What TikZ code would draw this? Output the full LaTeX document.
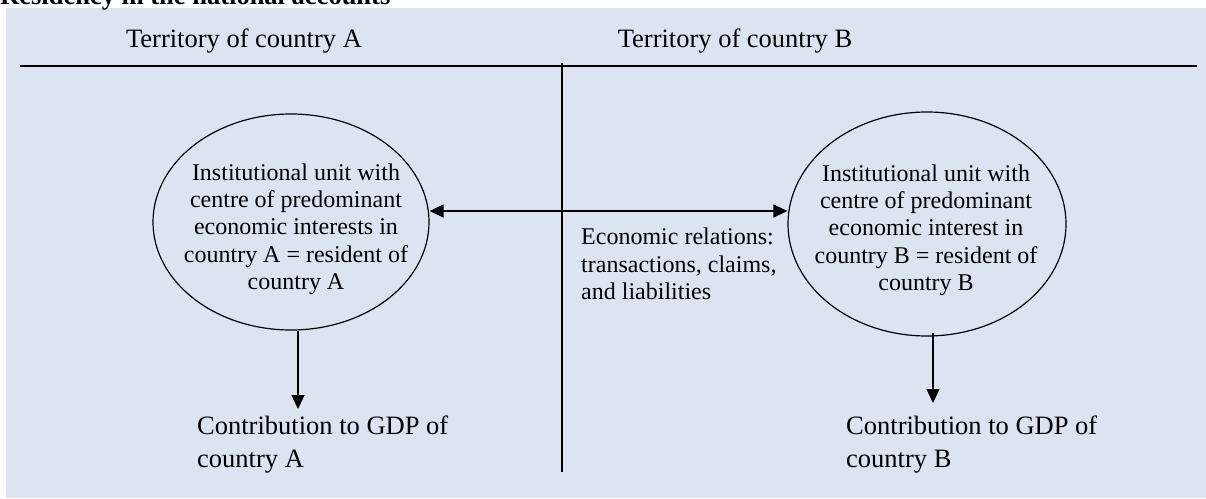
\documentclass[tikz,border=0pt]{standalone}
\usepackage{fontspec}
\setmainfont{Liberation Serif}
\usetikzlibrary{arrows.meta,shapes.geometric}
\definecolor{bgblue}{HTML}{DBE4F0}
\tikzset{
  rule/.style={line width=1.6pt, black},
  ell/.style={draw, line width=1.2pt, ellipse, inner sep=0pt},
  conn/.style={line width=1.3pt, -{Triangle[length=14pt,width=13pt]}},
  bigtxt/.style={inner sep=0pt, font=\fontsize{26.5}{31}\selectfont},
  midtxt/.style={inner sep=0pt, font=\fontsize{24}{27.3}\selectfont},
}
\begin{document}
\begin{tikzpicture}[x=1pt,y=-1pt]
\useasboundingbox (0,0) rectangle (1206,498);
\fill[bgblue] (6,8) rectangle (1206,498);
\node[anchor=base west, inner sep=0pt, font=\fontsize{26.5}{31}\selectfont\bfseries] (title) at (0,4.5) {Residency in the national accounts};
\coordinate (hl) at (20,66);
\coordinate (hr) at (1197,66);
\coordinate (vt) at (562,63);
\coordinate (vb) at (562,472);
\draw[rule] (hl) -- (hr);
\draw[rule] (vt) -- (vb);
\node[bigtxt] (tA) at (244,41) {Territory of country A};
\node[bigtxt] (tB) at (735,41) {Territory of country B};
\node[ell, minimum width=276pt, minimum height=216pt] (eA) at (291,222) {};
\node[ell, minimum width=278pt, minimum height=224pt] (eB) at (927,224) {};
\node[midtxt, align=center] (xA) at (296,229) {Institutional unit with\\centre of predominant\\economic interests in\\country A = resident of\\country A};
\node[midtxt, align=center] (xB) at (926,230) {Institutional unit with\\centre of predominant\\economic interest in\\country B = resident of\\country B};
\node[midtxt, align=left, anchor=west] (rel) at (581,264) {Economic relations:\\transactions, claims,\\and liabilities};
\node[bigtxt, align=left, anchor=west, font=\fontsize{26.5}{33}\selectfont] (cA) at (197,445) {Contribution to GDP of\\country A};
\node[bigtxt, align=left, anchor=west, font=\fontsize{26.5}{33}\selectfont] (cB) at (846,445) {Contribution to GDP of\\country B};
\coordinate (arrY) at (600,211);
\draw[line width=1.3pt, {Triangle[length=14pt,width=13pt]}-{Triangle[length=14pt,width=13pt]}] (eA.east |- arrY) -- (eB.west |- arrY);
\coordinate (dA) at (298,409);
\coordinate (dB) at (933,403);
\draw[conn] (dA |- eA.south) -- (dA);
\draw[conn] (dB |- eB.south) ++(0,-4) -- (dB);
\end{tikzpicture}
\end{document}
